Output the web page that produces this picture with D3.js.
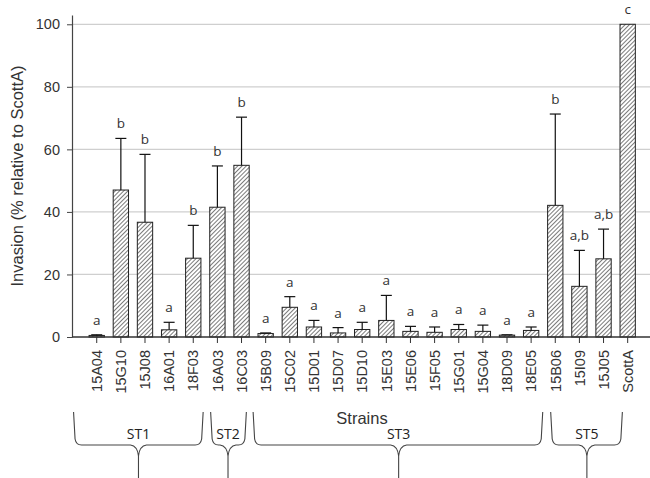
<!DOCTYPE html>
<html>
<head>
<meta charset="utf-8">
<script src="https://cdn.jsdelivr.net/npm/d3@7"></script>
<style>
  html, body { margin: 0; padding: 0; background: #fff; }
  svg { display: block; }
</style>
</head>
<body>
<svg id="chart" width="650" height="478"></svg>
<script>
// ---- data ----
const categories = ["15A04","15G10","15J08","16A01","18F03","16A03","16C03","15B09","15C02","15D01","15D07","15D10","15E03","15E06","15F05","15G01","15G04","18D09","18E05","15B06","15I09","15J05","ScottA"];
const values     = [0.5, 47.0, 36.7, 2.3, 25.2, 41.5, 54.9, 1.1, 9.5, 3.2, 1.3, 2.4, 5.3, 1.8, 1.5, 2.4, 1.8, 0.6, 2.1, 42.1, 16.2, 25.0, 100];
const errorTops  = [0.7, 63.5, 58.4, 4.7, 35.7, 54.7, 70.3, 1.3, 12.9, 5.3, 3.0, 4.7, 13.3, 3.4, 3.2, 4.0, 3.8, 0.7, 3.2, 71.3, 27.7, 34.5, null];
const letters    = ["a","b","b","a","b","b","b","a","a","a","a","a","a","a","a","a","a","a","a","b","a,b","a,b","c"];
const yTicks     = [0, 20, 40, 60, 80, 100];
// sequence-type groups: first / last position and tip position, in category-index units
const groupNames = ["ST1","ST2","ST3","ST5"];
const groupFrom  = [-0.96, 4.72, 6.48, 18.81];
const groupTo    = [4.41, 6.20, 18.48, 21.78];
const groupTip   = [1.73, 5.44, 12.51, 20.31];
const yTitle = "Invasion (% relative to ScottA)";
const xTitle = "Strains";

// ---- layout ----
const svg = d3.select("#chart");
const x0 = 72, x1 = 652.4, y0 = 337, yTop = 14.9;
const x = d3.scaleBand().domain(categories).range([x0, x1]).paddingInner(0.365).paddingOuter(0.707);
const y = d3.scaleLinear().domain([0, 103]).range([y0, yTop]);
const idx = d3.scaleLinear().domain([0, categories.length - 1])
  .range([x(categories[0]) + x.bandwidth() / 2, x(categories[categories.length - 1]) + x.bandwidth() / 2]);

// hatch pattern
const defs = svg.append("defs");
const pat = defs.append("pattern").attr("id", "hatch")
  .attr("patternUnits", "userSpaceOnUse").attr("width", 3).attr("height", 3)
  .attr("patternTransform", "rotate(45)");
pat.append("rect").attr("width", 3).attr("height", 3).attr("fill", "#fff");
pat.append("line").attr("x1", 0).attr("y1", 0).attr("x2", 0).attr("y2", 3)
  .attr("stroke", "#333").attr("stroke-width", 1.3);

// gridlines
svg.append("g").selectAll("line").data(yTicks.filter(d => d > 0)).join("line")
  .attr("x1", x0).attr("x2", 650).attr("y1", d => y(d)).attr("y2", d => y(d))
  .attr("stroke", "#cfcfcf").attr("stroke-width", 1.2);

// y axis
const yAxis = svg.append("g").attr("transform", `translate(${x0},0)`)
  .call(d3.axisLeft(y).tickValues(yTicks).tickSize(5).tickPadding(7).tickSizeOuter(0));
yAxis.select(".domain").attr("stroke", "#444").attr("stroke-width", 1.2);
yAxis.selectAll(".tick line").attr("stroke", "#444");
yAxis.selectAll(".tick text").attr("font-family", "'Liberation Sans', Arial, sans-serif")
  .attr("font-size", 14.5).attr("fill", "#333");

// bars
svg.append("g").selectAll("rect").data(categories).join("rect")
  .attr("x", d => x(d)).attr("width", x.bandwidth())
  .attr("y", (d, i) => y(values[i])).attr("height", (d, i) => y0 - y(values[i]))
  .attr("fill", "url(#hatch)").attr("stroke", "#222").attr("stroke-width", 1);

// error bars
const eb = svg.append("g").attr("stroke", "#111").attr("stroke-width", 1.2);
categories.forEach((c, i) => {
  if (errorTops[i] == null) return;
  const cx = x(c) + x.bandwidth() / 2;
  eb.append("line").attr("x1", cx).attr("x2", cx).attr("y1", y(values[i])).attr("y2", y(errorTops[i]));
  eb.append("line").attr("x1", cx - 5.5).attr("x2", cx + 5.5).attr("y1", y(errorTops[i])).attr("y2", y(errorTops[i]));
});

// letters
svg.append("g").selectAll("text").data(categories).join("text")
  .attr("x", d => x(d) + x.bandwidth() / 2)
  .attr("y", (d, i) => y(errorTops[i] == null ? values[i] : errorTops[i]) - 10)
  .attr("text-anchor", "middle")
  .attr("font-family", "'Open Sans', Lato, sans-serif").attr("font-size", 13.5)
  .attr("fill", "#333")
  .text((d, i) => letters[i]);

// x axis
const xAxis = svg.append("g").attr("transform", `translate(0,${y0})`)
  .call(d3.axisBottom(x).tickSize(6).tickPadding(0).tickSizeOuter(0));
xAxis.select(".domain").attr("d", `M${x0},0H650`).attr("stroke", "#333").attr("stroke-width", 1.6);
xAxis.selectAll(".tick line").attr("stroke", "#333");
xAxis.selectAll(".tick text")
  .attr("font-family", "'Liberation Sans', Arial, sans-serif").attr("font-size", 14.5).attr("fill", "#333")
  .attr("transform", "translate(0,13) rotate(-90)")
  .attr("text-anchor", "end").attr("dx", 0).attr("dy", "0.36em").attr("y", 0).attr("x", 0);

// y title
svg.append("text")
  .attr("transform", "translate(23,176) rotate(-90)")
  .attr("text-anchor", "middle")
  .attr("font-family", "'Liberation Sans', Arial, sans-serif").attr("font-size", 16.5).attr("fill", "#333")
  .text(yTitle);

// braces
const yT = 412, yH = 445, yC = 456, yB = 478;
const braces = svg.append("g").attr("fill", "none").attr("stroke", "#444").attr("stroke-width", 1.1);
groupNames.forEach((g, i) => {
  const L = idx(groupFrom[i]), R = idx(groupTo[i]), C = idx(groupTip[i]);
  const p = d3.path();
  p.moveTo(L, yT);
  p.lineTo(L + 1.5, yH - 6);
  p.quadraticCurveTo(L + 2.5, yH, L + 8, yH);
  p.lineTo(C - 8, yH);
  p.quadraticCurveTo(C - 1, yH + 1, C, yC);
  p.lineTo(C, yB);
  p.moveTo(C, yC);
  p.quadraticCurveTo(C + 1, yH + 1, C + 8, yH);
  p.lineTo(R - 8, yH);
  p.quadraticCurveTo(R - 2.5, yH, R - 1.5, yH - 6);
  p.lineTo(R, yT);
  braces.append("path").attr("d", p.toString());
  svg.append("text").attr("x", C).attr("y", 438.5).attr("text-anchor", "middle")
    .attr("font-family", "'Open Sans', Lato, sans-serif").attr("font-size", 14).attr("fill", "#222")
    .text(g);
});

svg.append("text").attr("x", 362).attr("y", 424).attr("text-anchor", "middle")
  .attr("font-family", "'Liberation Sans', Arial, sans-serif").attr("font-size", 16.5).attr("fill", "#333")
  .text(xTitle);
</script>
</body>
</html>
